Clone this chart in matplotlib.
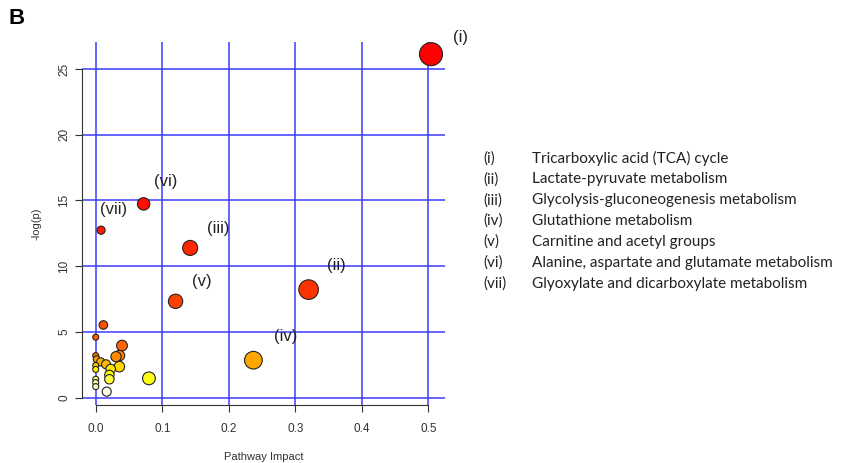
import colorsys
import matplotlib
matplotlib.use('Agg')
import matplotlib.pyplot as plt
import numpy as np

plt.rcParams['font.family'] = ['Liberation Sans', 'DejaVu Sans']

# pathway impact (x) and -log(p) (y)
impact = [0.504, 0.072, 0.008, 0.142, 0.320, 0.120, 0.0115, 0.0, 0.0395,
          0.0, 0.0356, 0.0305, 0.0015, 0.237, 0.0075, 0.0155, 0.0, 0.0355,
          0.0225, 0.0, 0.0205, 0.080, 0.0205, 0.0, 0.0, 0.0, 0.0165]
logp = [26.13, 14.74, 12.74, 11.39, 8.22, 7.33, 5.53, 4.60, 3.96,
        3.20, 3.20, 3.12, 2.92, 2.85, 2.72, 2.54, 2.45, 2.36,
        2.18, 2.15, 1.73, 1.47, 1.40, 1.40, 1.15, 0.84, 0.46]

# labelled pathways: index into the arrays above
lab_idx = [0, 4, 3, 13, 5, 1, 2]
lab_txt = ['(i)', '(ii)', '(iii)', '(iv)', '(v)', '(vi)', '(vii)']
lab_off = [(21, 12), (20, 17), (20, 14), (23, 17), (19, 14), (16, 16), (9, 15)]

legend_keys = ['(i)', '(ii)', '(iii)', '(iv)', '(v)', '(vi)', '(vii)']
legend_names = ['Tricarboxylic acid (TCA) cycle',
                'Lactate-pyruvate metabolism',
                'Glycolysis-gluconeogenesis metabolism',
                'Glutathione metabolism',
                'Carnitine and acetyl groups',
                'Alanine, aspartate and glutamate metabolism',
                'Glyoxylate and dicarboxylate metabolism']


def heat_colors(n):
    # same scheme as R's heat.colors()
    j = n // 4
    i = n - j
    cols = [colorsys.hsv_to_rgb(k / (i - 1) / 6, 1, 1) for k in range(i)]
    if j > 0:
        for s in np.linspace(1 - 1 / (2 * j), 1 / (2 * j), j):
            cols.append(colorsys.hsv_to_rgb(1 / 6, s, 1))
    return cols


x = np.array(impact)
y = np.array(logp)
order = np.argsort(-y, kind='stable')
pal = heat_colors(len(y))
cols = [None] * len(y)
for rank, k in enumerate(order):
    cols[k] = pal[rank]

dpi = 100
r_px = 3 + 12 * np.sqrt(x)
sizes = (2 * r_px * 72 / dpi) ** 2

fig = plt.figure(figsize=(8.5, 4.63), dpi=dpi)
ax = fig.add_axes([0.0965, 0.1253, 0.427, 0.785])

ax.scatter(x, y, s=sizes, c=cols, edgecolors='#222222', linewidths=0.8, zorder=3)

ax.set_xlim(-0.0206, 0.525)
ax.set_ylim(-0.556, 27.09)
ax.set_xticks([0, 0.1, 0.2, 0.3, 0.4, 0.5])
ax.set_xticklabels(['0.0', '0.1', '0.2', '0.3', '0.4', '0.5'])
ax.set_yticks([0, 5, 10, 15, 20, 25])
ax.grid(True, color='#3c3cff', linewidth=1.1, zorder=1)
ax.set_axisbelow(True)

for side in ['top', 'right']:
    ax.spines[side].set_visible(False)
ax.spines['left'].set_bounds(0, 25)
ax.spines['bottom'].set_bounds(0, 0.5)
ax.spines['left'].set_color('#333333')
ax.spines['bottom'].set_color('#333333')
ax.tick_params(length=5, width=0.8, color='#333333', labelsize=8.5, labelcolor='#333333')
ax.tick_params(axis='x', pad=8)
for t in ax.get_yticklabels():
    t.set_rotation(90)
    t.set_va('center')

ax.set_xlabel('Pathway Impact', fontsize=8, color='#333333', labelpad=12)
ax.set_ylabel('-log(p)', fontsize=8, color='#333333', labelpad=12)

for k, txt, off in zip(lab_idx, lab_txt, lab_off):
    ax.annotate(txt, (x[k], y[k]), xytext=off, textcoords='offset points',
                ha='center', va='center', fontsize=12, color='#222222',
                annotation_clip=False, zorder=4)

fig.text(8 / 850, 1 - 19 / 463, 'B', fontsize=16, fontweight='bold', va='center', ha='left')

for n, (key, name) in enumerate(zip(legend_keys, legend_names)):
    yy = 1 - (158.3 + n * 20.9) / 463
    fig.text(483 / 850, yy, key, fontsize=11, family='Lato', va='center', ha='left', color='#222222')
    fig.text(532 / 850, yy, name, fontsize=11, family='Lato', va='center', ha='left', color='#222222')

fig.savefig('out.png', dpi=dpi)
